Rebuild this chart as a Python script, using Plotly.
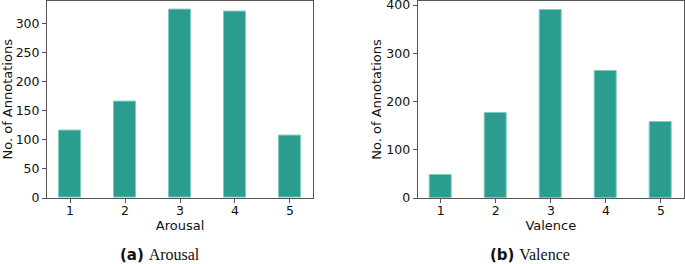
import plotly.graph_objects as go

categories = [1, 2, 3, 4, 5]
arousal_counts = [115, 166, 323, 320, 107]
valence_counts = [47, 176, 389, 263, 157]
arousal_ticks = [0, 50, 100, 150, 200, 250, 300]
valence_ticks = [0, 100, 200, 300, 400]

W, H = 685, 264
BAR = "#2a9d8f"
EDGE = "#7fcbc1"
AX = "#555555"
FONT = "DejaVu Sans"
TXT = "#111111"
FS = 12.5

fig = go.Figure()
fig.add_trace(go.Bar(x=categories, y=arousal_counts, width=0.4,
                     marker=dict(color=BAR, line=dict(color=EDGE, width=1)),
                     xaxis="x", yaxis="y", showlegend=False))
fig.add_trace(go.Bar(x=categories, y=valence_counts, width=0.4,
                     marker=dict(color=BAR, line=dict(color=EDGE, width=1)),
                     xaxis="x2", yaxis="y2", showlegend=False))

def px_x(a, b):
    return [a / W, b / W]

def px_y(top, bottom):
    return [(H - bottom) / H, (H - top) / H]

common_axis = dict(showline=True, linecolor=AX, linewidth=1, mirror=True,
                   ticks="outside", ticklen=4, tickcolor=AX, tickwidth=1,
                   showgrid=False, zeroline=False, automargin=False,
                   ticklabeloverflow="allow",
                   tickfont=dict(family=FONT, size=FS, color=TXT))

xa = dict(common_axis, tickvals=categories, range=[0.58, 5.42], ticklabelstandoff=-3)

fig.update_layout(
    width=W, height=H,
    margin=dict(l=0, r=0, t=0, b=0),
    plot_bgcolor="white", paper_bgcolor="white",
    xaxis=dict(xa, domain=px_x(47, 313), anchor="y",
               title=dict(text="Arousal", font=dict(family=FONT, size=13, color=TXT), standoff=1)),
    yaxis=dict(common_axis, domain=px_y(0.6, 198), anchor="x",
               range=[0, 339], tickvals=arousal_ticks,
               title=dict(text="No. of Annotations", font=dict(family=FONT, size=13, color=TXT), standoff=1)),
    xaxis2=dict(xa, domain=px_x(417.7, 684), anchor="y2",
                title=dict(text="Valence", font=dict(family=FONT, size=13, color=TXT), standoff=1)),
    yaxis2=dict(common_axis, domain=px_y(1, 198), anchor="x2",
                range=[0, 408.5], tickvals=valence_ticks,
                title=dict(text="No. of Annotations", font=dict(family=FONT, size=13, color=TXT), standoff=1)),
    bargap=0,
)

fig.add_annotation(x=160 / W, y=(H - 255) / H, xref="paper", yref="paper",
                   xanchor="center", yanchor="middle",
                   text="<b>(a)</b> <span style='font-family:Liberation Serif;font-size:16px'>Arousal</span>",
                   showarrow=False, font=dict(family=FONT, size=15, color=TXT))
fig.add_annotation(x=530 / W, y=(H - 255) / H, xref="paper", yref="paper",
                   xanchor="center", yanchor="middle",
                   text="<b>(b)</b> <span style='font-family:Liberation Serif;font-size:16px'>Valence</span>",
                   showarrow=False, font=dict(family=FONT, size=15, color=TXT))

fig.write_html("out.html", config={"displayModeBar": False},
               post_script="document.body.style.margin='0';")
